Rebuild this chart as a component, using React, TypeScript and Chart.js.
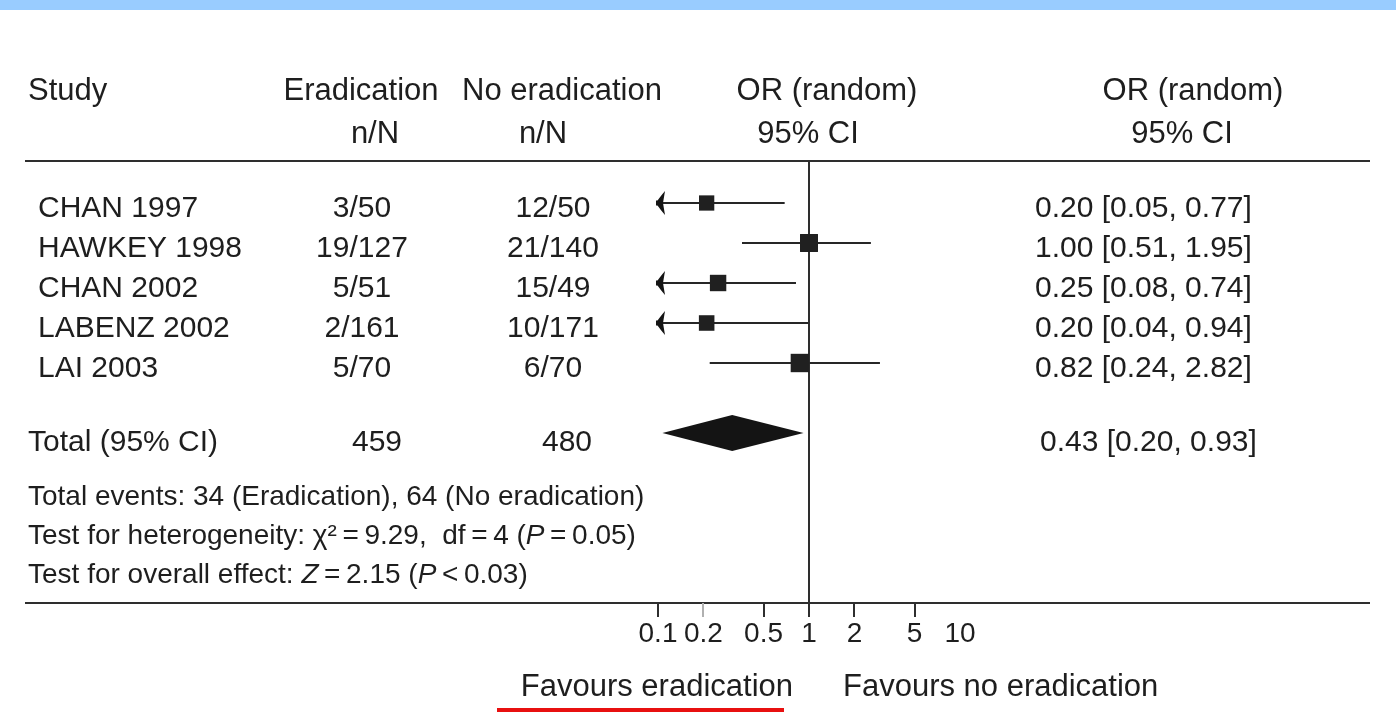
import React, { useEffect, useRef } from "react";
import { Chart, registerables } from "chart.js";

Chart.register(...registerables);

// ---------- data ----------
const studies = ["CHAN 1997", "HAWKEY 1998", "CHAN 2002", "LABENZ 2002", "LAI 2003"];
const eradicationNN = ["3/50", "19/127", "5/51", "2/161", "5/70"];
const noEradicationNN = ["12/50", "21/140", "15/49", "10/171", "6/70"];
const orLabels = [
  "0.20 [0.05, 0.77]",
  "1.00 [0.51, 1.95]",
  "0.25 [0.08, 0.74]",
  "0.20 [0.04, 0.94]",
  "0.82 [0.24, 2.82]",
];
// odds ratios and CI limits as drawn on the plot
const orPoint = [0.21, 1.0, 0.25, 0.21, 0.87];
const ciLower = [0.05, 0.36, 0.08, 0.04, 0.22];
const ciUpper = [0.69, 2.57, 0.82, 0.99, 2.95];
const rowIndex = [1, 2, 3, 4, 5];

const totalRow = 6.75;
const totalEradication = "459";
const totalNoEradication = "480";
const totalOR = 0.31;
const totalLower = 0.107;
const totalUpper = 0.92;
const totalLabel = "0.43 [0.20, 0.93]";

const axisTicks = [0.1, 0.2, 0.5, 1, 2, 5, 10];

// ---------- styling ----------
const FONT = "'Liberation Sans'";
const INK = "#1e1e1e";
const LINE = "#2e2e2e";
const squareRadius = [10.8, 12.7, 11.6, 11.0, 13.0];
const TS = "\u2009";

type Seg = { t: string; i?: boolean };

function drawText(
  ctx: CanvasRenderingContext2D,
  s: string,
  x: number,
  y: number,
  size: number,
  align: CanvasTextAlign = "left"
) {
  ctx.font = `${size}px ${FONT}`;
  ctx.textAlign = align;
  ctx.textBaseline = "alphabetic";
  ctx.fillStyle = INK;
  ctx.fillText(s, x, y);
}

function drawRich(ctx: CanvasRenderingContext2D, segs: Seg[], x: number, y: number, size: number) {
  let cx = x;
  ctx.textAlign = "left";
  ctx.textBaseline = "alphabetic";
  ctx.fillStyle = INK;
  for (const sg of segs) {
    ctx.font = `${sg.i ? "italic " : ""}${size}px ${FONT}`;
    ctx.fillText(sg.t, cx, y);
    cx += ctx.measureText(sg.t).width;
  }
}

const forestPlugin = {
  id: "forestDecor",
  beforeDraw(chart: any) {
    const ctx: CanvasRenderingContext2D = chart.ctx;
    ctx.save();
    ctx.fillStyle = "#ffffff";
    ctx.fillRect(0, 0, chart.width, chart.height);
    ctx.fillStyle = "#99ccff";
    ctx.fillRect(0, 0, chart.width, 10);

    // header
    drawText(ctx, "Study", 28, 100, 31);
    drawText(ctx, "Eradication", 361, 100, 31, "center");
    drawText(ctx, "No eradication", 562, 100, 31, "center");
    drawText(ctx, "OR (random)", 827, 100, 31, "center");
    drawText(ctx, "OR (random)", 1193, 100, 31, "center");
    drawText(ctx, "n/N", 375, 143, 31, "center");
    drawText(ctx, "n/N", 543, 143, 31, "center");
    drawText(ctx, "95% CI", 808, 143, 31, "center");
    drawText(ctx, "95% CI", 1182, 143, 31, "center");

    // rules
    ctx.strokeStyle = LINE;
    ctx.lineWidth = 2;
    ctx.beginPath();
    ctx.moveTo(25, 161);
    ctx.lineTo(1370, 161);
    ctx.moveTo(25, chart.chartArea.bottom);
    ctx.lineTo(1370, chart.chartArea.bottom);
    ctx.stroke();
    ctx.restore();
  },
  beforeDatasetsDraw(chart: any) {
    const ctx: CanvasRenderingContext2D = chart.ctx;
    const xs = chart.scales.x;
    const x1 = Math.round(xs.getPixelForValue(1));
    ctx.save();
    ctx.strokeStyle = LINE;
    ctx.lineWidth = 2;
    ctx.beginPath();
    ctx.moveTo(x1, 161);
    ctx.lineTo(x1, chart.chartArea.bottom);
    ctx.stroke();
    ctx.restore();
  },
  afterDatasetsDraw(chart: any) {
    const ctx: CanvasRenderingContext2D = chart.ctx;
    const xs = chart.scales.x;
    const ys = chart.scales.y;
    ctx.save();

    // arrows for CIs running past the axis minimum
    ctx.fillStyle = "#141414";
    rowIndex.forEach((r, i) => {
      if (ciLower[i] < xs.min) {
        const x0 = chart.chartArea.left - 2;
        const y = ys.getPixelForValue(r);
        ctx.beginPath();
        ctx.moveTo(x0, y);
        ctx.quadraticCurveTo(x0 + 3, y - 5, x0 + 9, y - 12);
        ctx.lineTo(x0 + 7, y);
        ctx.lineTo(x0 + 9, y + 12);
        ctx.quadraticCurveTo(x0 + 3, y + 5, x0, y);
        ctx.closePath();
        ctx.fill();
        ctx.fillRect(x0, y - 2.5, 4, 5);
      }
    });

    // pooled diamond
    const yt = ys.getPixelForValue(totalRow);
    ctx.fillStyle = "#141414";
    ctx.beginPath();
    ctx.moveTo(xs.getPixelForValue(totalLower), yt);
    ctx.lineTo(xs.getPixelForValue(totalOR), yt - 18);
    ctx.lineTo(xs.getPixelForValue(totalUpper), yt);
    ctx.lineTo(xs.getPixelForValue(totalOR), yt + 18);
    ctx.closePath();
    ctx.fill();

    // study rows text
    rowIndex.forEach((r, i) => {
      const yb = ys.getPixelForValue(r) + 13.5;
      drawText(ctx, studies[i], 38, yb, 30);
      drawText(ctx, eradicationNN[i], 362, yb, 30, "center");
      drawText(ctx, noEradicationNN[i], 553, yb, 30, "center");
      drawText(ctx, orLabels[i], 1035, yb, 30);
    });

    // totals
    const tb = yt + 18;
    drawText(ctx, "Total (95% CI)", 28, tb, 30);
    drawText(ctx, totalEradication, 377, tb, 30, "center");
    drawText(ctx, totalNoEradication, 567, tb, 30, "center");
    drawText(ctx, totalLabel, 1040, tb, 30);

    // footer statistics
    drawRich(ctx, [{ t: "Total events: 34 (Eradication), 64 (No eradication)" }], 28, 505, 28);
    drawRich(
      ctx,
      [
        { t: `Test for heterogeneity: \u03c7\u00b2${TS}=${TS}9.29,  df${TS}=${TS}4 (` },
        { t: "P", i: true },
        { t: `${TS}=${TS}0.05)` },
      ],
      28,
      544,
      28
    );
    drawRich(
      ctx,
      [
        { t: "Test for overall effect: " },
        { t: "Z", i: true },
        { t: `${TS}=${TS}2.15 (` },
        { t: "P", i: true },
        { t: `${TS}<${TS}0.03)` },
      ],
      28,
      583,
      28
    );

    // favours labels
    drawText(ctx, "Favours eradication", 793, 696, 31, "right");
    drawText(ctx, "Favours no eradication", 843, 696, 31, "left");
    ctx.fillStyle = "#e81010";
    ctx.fillRect(497, 708, 287, 4);

    ctx.restore();
  },
};

export default function App() {
  const canvasRef = useRef<HTMLCanvasElement | null>(null);

  useEffect(() => {
    document.body.style.margin = "0";
    const canvas = canvasRef.current;
    if (!canvas) return;
    let chart: Chart | null = null;
    let cancelled = false;

    const build = () => {
      if (cancelled) return;
      const lineSets = rowIndex.map((r, i) => ({
        type: "line" as const,
        data: [
          { x: ciLower[i], y: r },
          { x: ciUpper[i], y: r },
        ],
        borderColor: "#262626",
        borderWidth: 2,
        pointRadius: 0,
        fill: false,
        order: 2,
      }));

      chart = new Chart(canvas, {
        type: "scatter",
        data: {
          datasets: [
            ...lineSets,
            {
              type: "scatter" as const,
              data: rowIndex.map((r, i) => ({ x: orPoint[i], y: r })),
              pointStyle: "rect",
              pointRadius: squareRadius,
              pointHoverRadius: squareRadius,
              backgroundColor: "#202020",
              borderColor: "#202020",
              borderWidth: 0,
              order: 1,
            },
          ] as any,
        },
        options: {
          animation: false,
          responsive: false,
          devicePixelRatio: 1,
          events: [],
          layout: { padding: { left: 658, right: 436, top: 163, bottom: 69 } },
          plugins: {
            legend: { display: false },
            tooltip: { enabled: false },
            title: { display: false },
          },
          scales: {
            x: {
              type: "logarithmic",
              min: 0.1,
              max: 10,
              position: "bottom",
              afterBuildTicks: (s: any) => {
                s.ticks = axisTicks.map((v) => ({ value: v }));
              },
              afterFit: (s: any) => {
                s.height = 40;
              },
              border: { display: false },
              grid: {
                drawOnChartArea: false,
                drawTicks: true,
                tickLength: 14,
                lineWidth: 2,
                color: (c: any) =>
                  c.tick && c.tick.value === 10
                    ? "rgba(0,0,0,0)"
                    : c.tick && c.tick.value === 0.2
                    ? "#b0b0b0"
                    : LINE,
              },
              ticks: {
                autoSkip: false,
                maxRotation: 0,
                minRotation: 0,
                padding: 0,
                color: INK,
                font: { size: 28, family: FONT },
                callback: (v: any) => String(v),
              },
            } as any,
            y: {
              type: "linear",
              min: 0,
              max: 11,
              reverse: true,
              display: false,
            },
          },
        },
        plugins: [forestPlugin],
      });
    };

    const fonts: any = (document as any).fonts;
    if (fonts && fonts.load) {
      Promise.all([
        fonts.load(`30px ${FONT}`),
        fonts.load(`italic 28px ${FONT}`),
      ])
        .catch(() => null)
        .then(build);
    } else {
      build();
    }

    return () => {
      cancelled = true;
      if (chart) chart.destroy();
    };
  }, []);

  return (
    <div style={{ position: "absolute", left: 0, top: 0, width: 1396, height: 712 }}>
      <canvas ref={canvasRef} width={1396} height={712} style={{ display: "block" }} />
    </div>
  );
}
